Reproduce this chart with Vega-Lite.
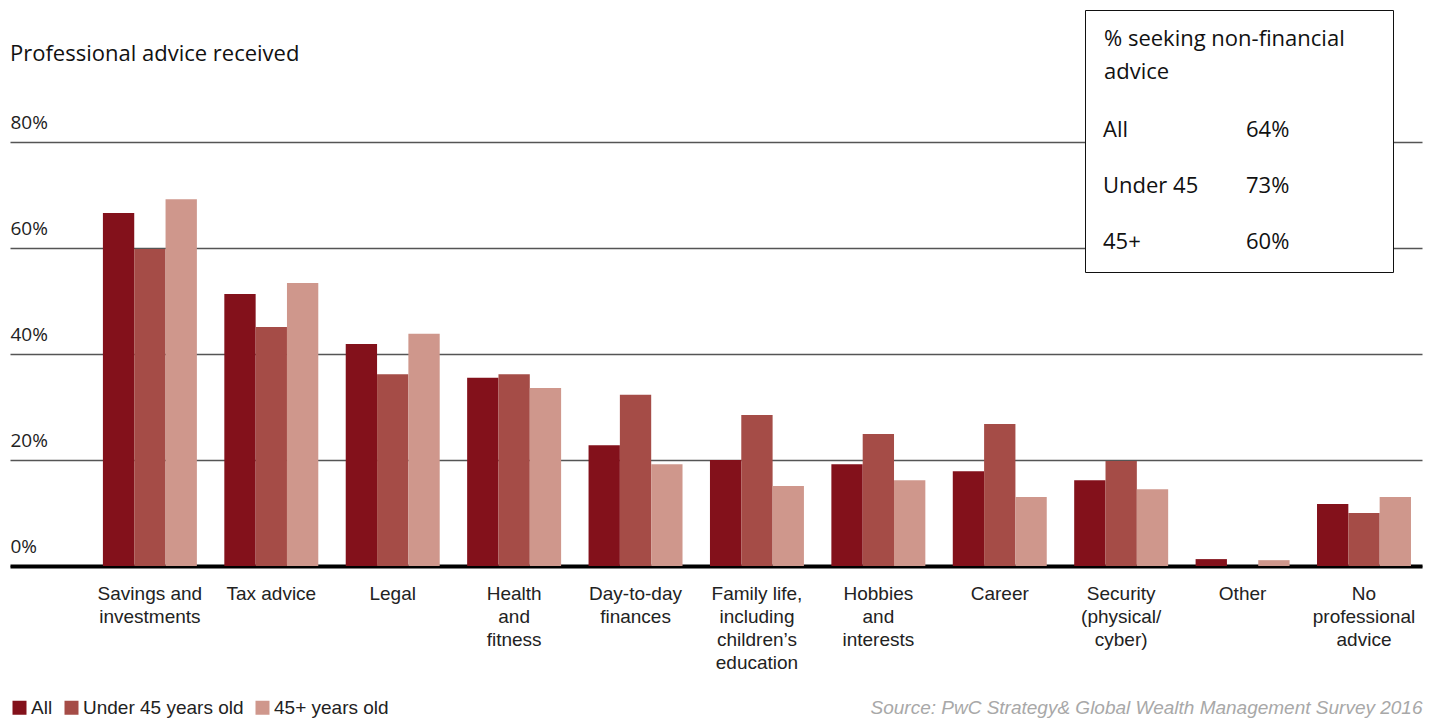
{
  "$schema": "https://vega.github.io/schema/vega-lite/v6.json",
  "width": 1412,
  "height": 424,
  "autosize": "none",
  "padding": {"left": 10, "top": 142, "right": 12, "bottom": 153},
  "background": "white",
  "title": {
    "text": "Professional advice received",
    "anchor": "start",
    "frame": "group",
    "font": "Open Sans",
    "fontSize": 22,
    "fontWeight": "normal",
    "color": "#111111",
    "offset": 0,
    "dy": 56
  },
  "config": {"view": {"stroke": null}},
  "layer": [
    {
      "data": {
        "values": [
          {"cat": "Savings and\ninvestments", "group": "All", "value": 66.6},
          {"cat": "Savings and\ninvestments", "group": "Under 45 years old", "value": 59.8},
          {"cat": "Savings and\ninvestments", "group": "45+ years old", "value": 69.2},
          {"cat": "Tax advice", "group": "All", "value": 51.3},
          {"cat": "Tax advice", "group": "Under 45 years old", "value": 45.1},
          {"cat": "Tax advice", "group": "45+ years old", "value": 53.4},
          {"cat": "Legal", "group": "All", "value": 41.9},
          {"cat": "Legal", "group": "Under 45 years old", "value": 36.2},
          {"cat": "Legal", "group": "45+ years old", "value": 43.8},
          {"cat": "Health\nand\nfitness", "group": "All", "value": 35.5},
          {"cat": "Health\nand\nfitness", "group": "Under 45 years old", "value": 36.2},
          {"cat": "Health\nand\nfitness", "group": "45+ years old", "value": 33.6},
          {"cat": "Day-to-day\nfinances", "group": "All", "value": 22.8},
          {"cat": "Day-to-day\nfinances", "group": "Under 45 years old", "value": 32.3},
          {"cat": "Day-to-day\nfinances", "group": "45+ years old", "value": 19.2},
          {"cat": "Family life,\nincluding\nchildren’s\neducation", "group": "All", "value": 20.0},
          {"cat": "Family life,\nincluding\nchildren’s\neducation", "group": "Under 45 years old", "value": 28.5},
          {"cat": "Family life,\nincluding\nchildren’s\neducation", "group": "45+ years old", "value": 15.1},
          {"cat": "Hobbies\nand\ninterests", "group": "All", "value": 19.2},
          {"cat": "Hobbies\nand\ninterests", "group": "Under 45 years old", "value": 24.9},
          {"cat": "Hobbies\nand\ninterests", "group": "45+ years old", "value": 16.2},
          {"cat": "Career", "group": "All", "value": 17.9},
          {"cat": "Career", "group": "Under 45 years old", "value": 26.8},
          {"cat": "Career", "group": "45+ years old", "value": 13.0},
          {"cat": "Security\n(physical/\ncyber)", "group": "All", "value": 16.2},
          {"cat": "Security\n(physical/\ncyber)", "group": "Under 45 years old", "value": 19.8},
          {"cat": "Security\n(physical/\ncyber)", "group": "45+ years old", "value": 14.5},
          {"cat": "Other", "group": "All", "value": 1.3},
          {"cat": "Other", "group": "Under 45 years old", "value": 0},
          {"cat": "Other", "group": "45+ years old", "value": 1.1},
          {"cat": "No\nprofessional\nadvice", "group": "All", "value": 11.7},
          {"cat": "No\nprofessional\nadvice", "group": "Under 45 years old", "value": 10.0},
          {"cat": "No\nprofessional\nadvice", "group": "45+ years old", "value": 13.0}
        ]
      },
      "mark": {"type": "bar"},
      "encoding": {
        "x": {
          "field": "cat",
          "type": "nominal",
          "sort": null,
          "scale": {"paddingInner": 0.226, "paddingOuter": 0.428, "align": 0.894},
          "axis": {
            "orient": "bottom",
            "labelAngle": 0,
            "labelExpr": "split(datum.label, '\\n')",
            "labelFont": "Liberation Sans",
            "labelFontSize": 19,
            "labelLineHeight": 23,
            "labelColor": "#222222",
            "labelPadding": 18,
            "labelLimit": 400,
            "ticks": false,
            "domain": true,
            "domainColor": "#000000",
            "domainWidth": 4,
            "title": "Source: PwC Strategy& Global Wealth Management Survey 2016",
            "titleAnchor": "end",
            "titleFont": "Liberation Sans",
            "titleFontStyle": "italic",
            "titleFontWeight": "normal",
            "titleFontSize": 19,
            "titleColor": "#a8a8a8",
            "titlePadding": 26
          }
        },
        "xOffset": {
          "field": "group",
          "type": "nominal",
          "sort": ["All", "Under 45 years old", "45+ years old"],
          "scale": {"paddingInner": 0, "paddingOuter": 0}
        },
        "y": {
          "field": "value",
          "type": "quantitative",
          "scale": {"domain": [0, 80], "nice": false},
          "axis": {
            "values": [0, 20, 40, 60, 80],
            "labelExpr": "datum.value + '%'",
            "orient": "left",
            "domain": false,
            "ticks": false,
            "tickSize": 0,
            "labelPadding": 0,
            "labelAlign": "left",
            "labelBaseline": "alphabetic",
            "labelOffset": -14,
            "labelFlush": false,
            "labelBound": false,
            "labelFont": "Open Sans",
            "labelFontSize": 19,
            "labelColor": "#222222",
            "grid": true,
            "gridColor": "#555555",
            "gridWidth": 1.5,
            "title": null
          }
        },
        "color": {
          "field": "group",
          "type": "nominal",
          "sort": ["All", "Under 45 years old", "45+ years old"],
          "scale": {
            "domain": ["All", "Under 45 years old", "45+ years old"],
            "range": ["#83111b", "#a54c47", "#cf978c"]
          },
          "legend": {
            "orient": "none",
            "legendX": 0,
            "legendY": 556,
            "direction": "horizontal",
            "title": null,
            "symbolType": "square",
            "symbolSize": 196,
            "symbolStrokeWidth": 0,
            "symbolOpacity": 1,
            "labelFont": "Liberation Sans",
            "labelFontSize": 19,
            "labelColor": "#222222",
            "labelLimit": 400,
            "labelOffset": 2,
            "columnPadding": 9
          }
        }
      }
    },
    {
      "data": {
        "values": [
          {"group": "All", "share": "64%"},
          {"group": "Under 45", "share": "73%"},
          {"group": "45+", "share": "60%"}
        ]
      },
      "transform": [{"fold": ["group", "share"], "as": ["col", "entry"]}],
      "mark": {"type": "point", "opacity": 0},
      "encoding": {
        "shape": {
          "field": "entry",
          "type": "nominal",
          "sort": ["All", "Under 45", "45+", "64%", "73%", "60%"],
          "legend": {
            "orient": "none",
            "legendX": 1075,
            "legendY": -132,
            "title": ["% seeking non-financial\u00a0\u00a0\u00a0\u00a0\u00a0\u200b", "advice"],
            "titleFont": "Open Sans",
            "titleFontSize": 22,
            "titleFontWeight": "normal",
            "titleColor": "#111111",
            "titleLineHeight": 33,
            "titlePadding": 35,
            "titleLimit": 600,
            "columns": 2,
            "columnPadding": 47,
            "rowPadding": 34,
            "gridAlign": "each",
            "labelFont": "Open Sans",
            "labelFontSize": 22,
            "labelColor": "#111111",
            "labelLimit": 400,
            "labelOffset": -23,
            "symbolSize": 0,
            "symbolOpacity": 0,
            "symbolStrokeWidth": 0,
            "fillColor": "white",
            "strokeColor": "#111111",
            "padding": 19,
            "encode": {"legend": {"update": {"strokeWidth": {"value": 1.5}}}}
          }
        }
      }
    }
  ]
}
